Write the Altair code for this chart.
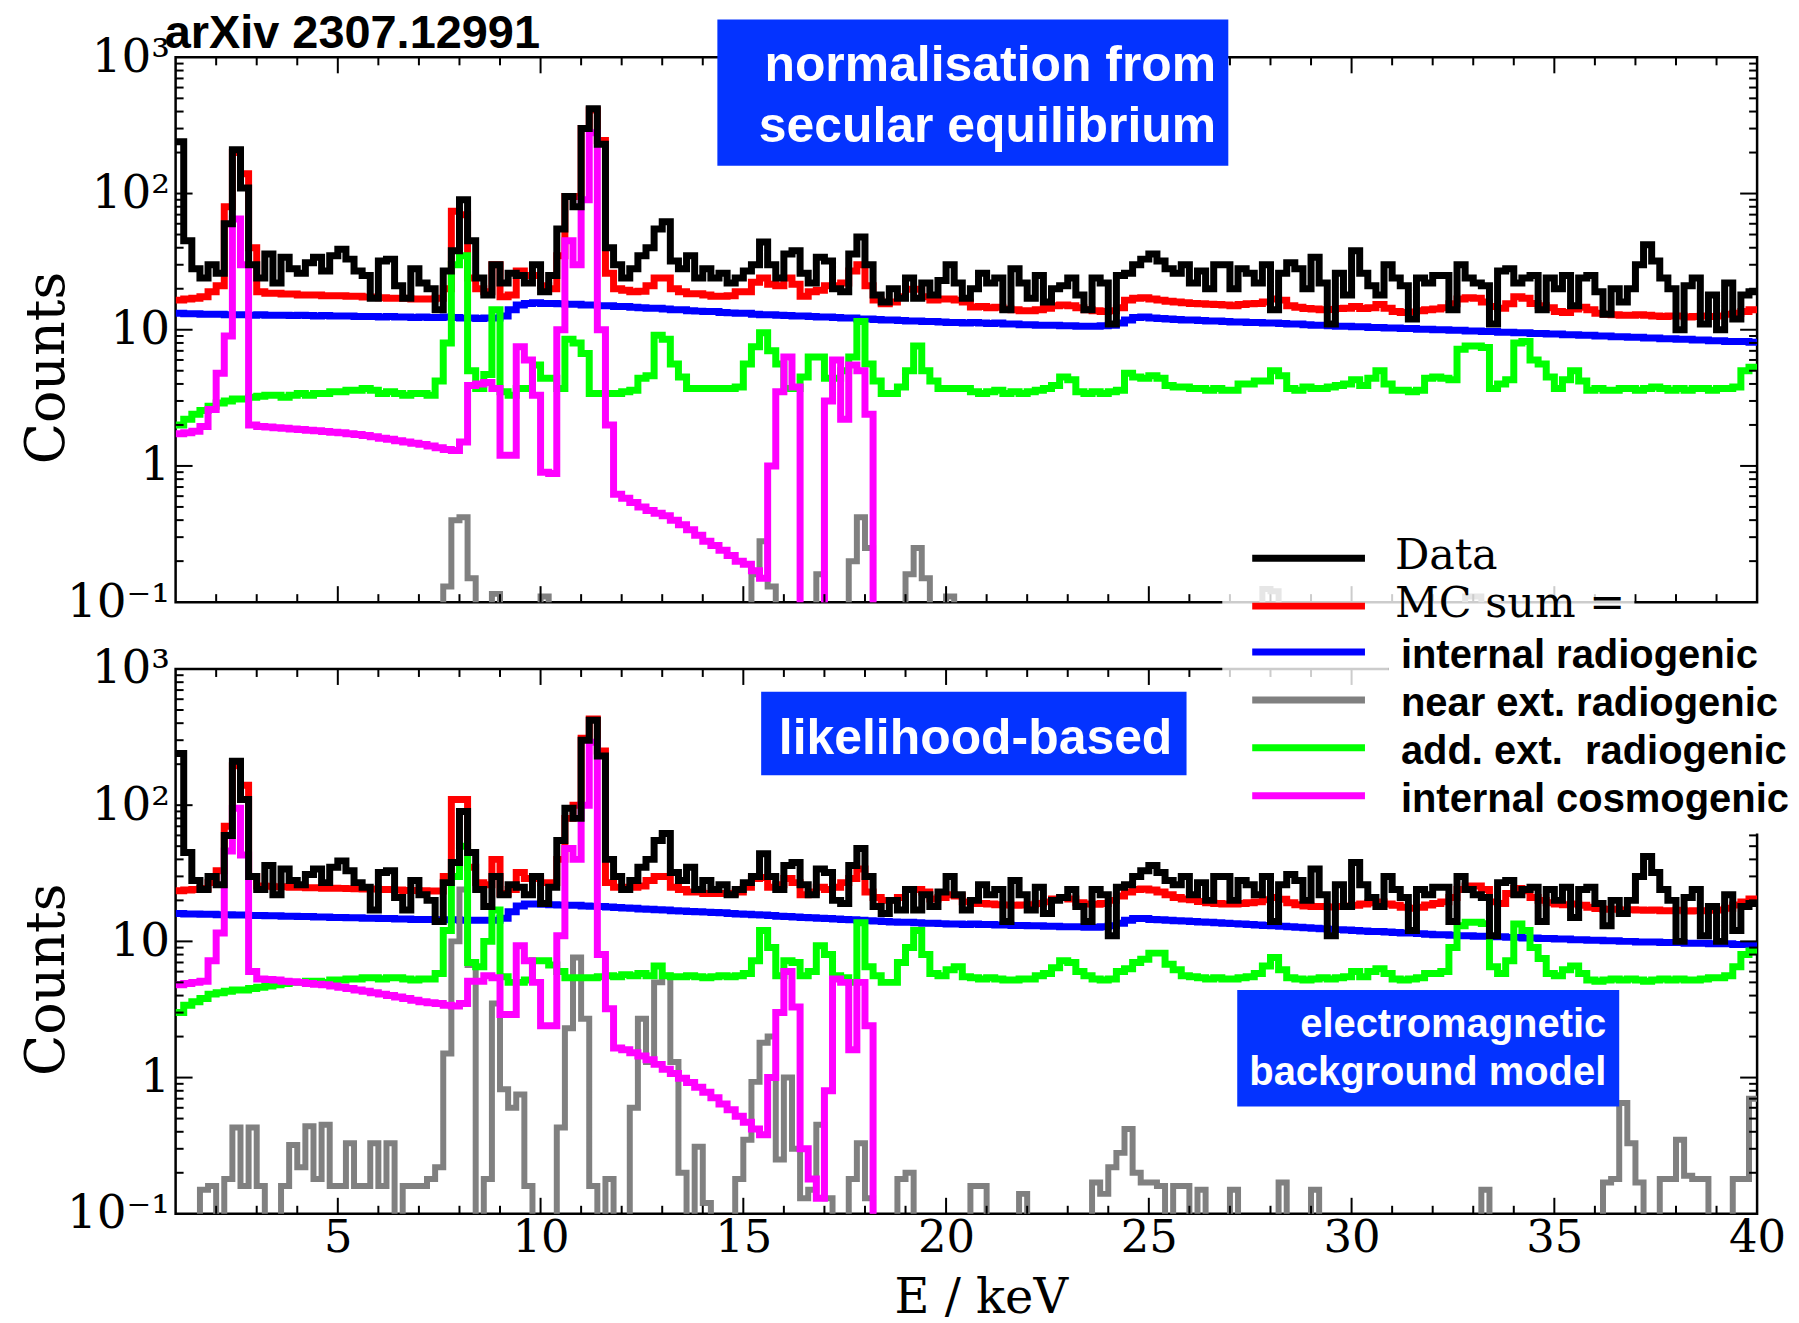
import altair as alt
import pandas as pd

# ---------------------------------------------------------------------------
# Binning of the energy spectra (keV) and plot ranges
# ---------------------------------------------------------------------------
E_MIN, E_MAX, BIN_WIDTH = 1.0, 40.0, 0.2
Y_DOMAIN = [0.1, 1000]
PLOT_W, PLOT_H = 1585, 546
FLOOR = 1e-3  # empty bins are drawn below the visible range
LINE_W = 7

SERIF = "DejaVu Serif"
SANS = "Liberation Sans"

# Measured spectrum (counts per 0.2 keV bin, 1.0 - 40.0 keV)
DATA = [
    240, 45, 28, 24, 30, 26, 60, 210, 110, 30,
    24, 36, 22, 34, 28, 26, 31, 34, 27, 35,
    39, 33, 27, 25, 17, 32, 33, 21, 17, 28,
    22, 20, 14, 27, 38, 90, 45, 24, 18, 30,
    22, 26, 25, 22, 30, 19, 25, 55, 95, 80,
    300, 420, 230, 40, 30, 24, 28, 35, 40, 55,
    62, 32, 28, 35, 24, 28, 24, 26, 22, 24,
    27, 30, 44, 30, 24, 36, 38, 26, 22, 34,
    32, 20, 19, 36, 48, 30, 18, 16, 20, 17,
    24, 17, 22, 18, 23, 30, 22, 17, 20, 26,
    22, 24, 14, 28, 22, 17, 25, 16, 20, 21,
    24, 18, 14, 24, 22, 11, 25, 26, 30, 33,
    36, 32, 28, 26, 30, 22, 27, 20, 30, 30,
    20, 28, 26, 22, 30, 14, 26, 31, 28, 20,
    34, 22, 11, 26, 18, 38, 26, 21, 18, 30,
    24, 21, 12, 24, 22, 25, 25, 14, 30, 24,
    22, 21, 11, 27, 28, 22, 24, 25, 14, 24,
    20, 25, 15, 24, 25, 19, 13, 20, 16, 20,
    30, 42, 32, 24, 20, 10, 21, 24, 11, 18,
    10, 22, 12, 18, 19,
]

# ---- normalisation from secular equilibrium --------------------------------
TOP_MC_SUM = [
    16.5, 16.8, 17, 17.5, 19, 21, 80, 200, 140, 40,
    19, 18.5, 18.5, 18.3, 18.3, 18, 18, 18, 17.8, 17.8,
    17.8, 17.6, 17.6, 17.4, 17.4, 17.2, 17, 17, 17, 16.8,
    16.8, 16.8, 17, 20, 74, 70, 24, 20, 19, 30,
    17.5, 18, 27, 25, 25, 21, 20, 35, 95, 95,
    300, 410, 245, 26, 20, 19.5, 19, 19.2, 21, 24,
    24, 20, 19, 18.4, 18.4, 18, 17.6, 17.6, 17.8, 19,
    19, 22.3, 24, 21.6, 21, 24, 21.6, 17.6, 19, 19.5,
    21, 21, 22, 27, 30, 21, 16.5, 15.5, 16, 17.5,
    19.8, 19.8, 17.5, 16.5, 16.8, 16.8, 16.5, 16, 14.7, 14.8,
    14.5, 14.6, 14.2, 14.0, 13.8, 13.8, 14.0, 14.4, 15.0, 15.2,
    15.0, 14.5, 14.0, 13.8, 13.6, 13.8, 14.5, 16.5, 17.0, 17.2,
    16.8, 16.5, 16.2, 16.0, 15.8, 15.6, 15.5, 15.4, 15.3, 15.2,
    15.0, 15.3, 15.5, 15.6, 16.0, 16.8, 16.5, 15.0, 14.6, 14.3,
    14.2, 14.0, 14.1, 14.3, 14.4, 14.8, 14.3, 14.5, 15.3, 14.4,
    13.6, 13.4, 13.5, 13.8, 14.0, 14.2, 14.5, 15.5, 16.8, 17.2,
    17.0, 16.0, 14.8, 14.4, 15.5, 17.5, 17.0, 15.6, 15.0, 14.5,
    13.6, 13.4, 14.2, 14.6, 14.0, 13.2, 13.0, 12.9, 12.8, 12.8,
    12.9, 12.8, 12.6, 12.5, 12.6, 12.6, 12.4, 12.5, 12.6, 12.5,
    12.6, 13.0, 13.2, 13.6, 14.0,
]
TOP_INT_RADIO = [
    13.2, 13.1, 13.1, 13.0, 13.0, 13.0, 12.9, 12.9, 12.9, 12.8,
    12.9, 12.8, 12.8, 12.8, 12.7, 12.8, 12.7, 12.6, 12.7, 12.6,
    12.6, 12.6, 12.5, 12.5, 12.5, 12.4, 12.5, 12.4, 12.4, 12.3,
    12.4, 12.3, 12.3, 12.4, 12.3, 12.2, 12.2, 12.1, 12.2, 12.2,
    12.6, 14.0, 15.2, 15.6, 15.8, 15.6, 15.6, 15.5, 15.4, 15.4,
    15.2, 15.2, 15.0, 15.0, 14.8, 14.8, 14.6, 14.5, 14.4, 14.4,
    14.2, 14.0, 14.0, 13.8, 13.7, 13.6, 13.6, 13.4, 13.3, 13.2,
    13.2, 13.0, 12.9, 12.9, 12.8, 12.7, 12.6, 12.6, 12.5, 12.4,
    12.4, 12.3, 12.2, 12.2, 12.0, 12.0, 11.9, 11.8, 11.8, 11.7,
    11.6, 11.6, 11.5, 11.5, 11.4, 11.3, 11.3, 11.2, 11.3, 11.2,
    11.1, 11.2, 11.0, 11.0, 10.9, 10.9, 10.8, 10.8, 10.8, 10.7,
    10.7, 10.6, 10.6, 10.6, 10.7, 10.8, 11.2, 11.8, 12.3, 12.4,
    12.2, 12.1, 12.0, 11.9, 11.8, 11.8, 11.7, 11.6, 11.6, 11.5,
    11.4, 11.4, 11.3, 11.3, 11.2, 11.2, 11.1, 11.0, 11.0, 10.9,
    10.8, 10.8, 10.7, 10.6, 10.6, 10.5, 10.5, 10.4, 10.4, 10.3,
    10.3, 10.2, 10.2, 10.1, 10.1, 10.0, 10.0, 9.9, 9.9, 9.8,
    9.8, 9.7, 9.7, 9.6, 9.6, 9.5, 9.5, 9.4, 9.4, 9.3,
    9.3, 9.2, 9.2, 9.1, 9.1, 9.0, 9.0, 8.9, 8.9, 8.8,
    8.8, 8.7, 8.7, 8.6, 8.6, 8.5, 8.5, 8.4, 8.4, 8.3,
    8.3, 8.2, 8.2, 8.2, 8.1,
]
TOP_NEAR_EXT = [
    0, 0, 0, 0, 0, 0, 0, 0, 0, 0,
    0, 0, 0, 0, 0, 0, 0, 0, 0, 0,
    0, 0, 0, 0, 0, 0, 0, 0, 0, 0,
    0, 0, 0, 0.13, 0.4, 0.42, 0.15, 0, 0, 0.115,
    0, 0, 0, 0, 0, 0.11, 0, 0, 0, 0,
    0, 0, 0, 0, 0, 0, 0, 0, 0, 0,
    0, 0, 0, 0, 0, 0, 0, 0, 0, 0,
    0, 0.16, 0.28, 0.13, 0, 0, 0, 0, 0, 0.16,
    0, 0, 0, 0.2, 0.42, 0.25, 0, 0, 0, 0,
    0.16, 0.25, 0.15, 0, 0, 0.11, 0, 0, 0, 0,
    0, 0, 0, 0, 0, 0, 0, 0, 0, 0,
    0, 0, 0, 0, 0, 0, 0, 0, 0, 0,
    0, 0, 0, 0, 0, 0, 0, 0, 0, 0,
    0, 0, 0, 0, 0.125, 0.12, 0, 0, 0, 0,
    0, 0, 0, 0, 0, 0, 0, 0, 0, 0,
    0, 0, 0, 0, 0, 0, 0, 0, 0, 0.11,
    0.11, 0, 0, 0, 0, 0, 0, 0, 0, 0,
    0, 0, 0, 0, 0, 0, 0, 0, 0, 0,
    0, 0, 0, 0, 0, 0, 0, 0, 0, 0,
    0, 0, 0, 0, 0,
]
TOP_ADD_EXT = [
    2.0, 2.2, 2.4, 2.55, 2.74, 2.9, 3.0, 3.1, 3.1, 3.2,
    3.25, 3.3, 3.3, 3.2, 3.3, 3.4, 3.3, 3.4, 3.4, 3.5,
    3.5, 3.6, 3.6, 3.7, 3.6, 3.4, 3.5, 3.4, 3.3, 3.4,
    3.4, 3.3, 4.2, 8.0, 30, 35, 5.0, 3.7, 4.7, 14,
    3.5, 3.3, 3.7, 3.7, 5.5, 4.4, 4.4, 3.7, 8.5, 8.0,
    6.7, 3.4, 3.4, 3.4, 3.4, 3.5, 3.6, 4.4, 4.6, 9.1,
    8.5, 5.6, 4.5, 3.7, 3.7, 3.7, 3.7, 3.7, 3.7, 3.8,
    5.6, 7.5, 9.5, 7.0, 5.6, 3.7, 3.7, 4.5, 6.3, 6.3,
    4.4, 4.4, 5.0, 6.3, 11.5, 5.6, 4.2, 3.4, 3.4, 3.8,
    5.0, 7.6, 5.0, 4.2, 3.7, 3.7, 3.7, 3.7, 3.5, 3.4,
    3.5, 3.6, 3.4, 3.5, 3.4, 3.5, 3.6, 3.7, 3.9, 4.5,
    4.3, 3.5, 3.4, 3.5, 3.4, 3.5, 3.6, 4.8, 4.5, 4.4,
    4.6, 4.4, 3.9, 3.8, 3.8, 3.7, 3.7, 3.6, 3.7, 3.6,
    3.6, 4.0, 4.0, 4.2, 4.2, 5.0, 4.6, 3.7, 3.6, 3.8,
    3.7, 3.7, 3.8, 3.9, 4.0, 4.3, 3.9, 4.4, 5.0, 4.0,
    3.6, 3.6, 3.5, 3.6, 4.4, 4.5, 4.4, 4.3, 7.2, 7.6,
    7.6, 7.4, 3.7, 4.0, 4.3, 8.0, 8.2, 6.0, 5.6, 4.5,
    3.7, 4.3, 5.0, 4.2, 3.6, 3.7, 3.6, 3.6, 3.7, 3.7,
    3.6, 3.7, 3.8, 3.7, 3.6, 3.7, 3.6, 3.7, 3.7, 3.6,
    3.7, 3.7, 3.8, 5.0, 5.3,
]
TOP_INT_COSMO = [
    1.72, 1.75, 1.8, 1.95, 2.6, 4.8, 9, 65, 30, 2.0,
    1.95, 1.93, 1.91, 1.89, 1.87, 1.85, 1.83, 1.81, 1.79, 1.77,
    1.75, 1.72, 1.70, 1.67, 1.64, 1.60, 1.57, 1.53, 1.50, 1.47,
    1.44, 1.40, 1.36, 1.32, 1.30, 1.5, 3.9, 4.0, 4.1, 3.7,
    1.2, 1.2, 7.5, 6.0, 3.3, 0.9, 0.88, 10, 45, 30,
    90, 280, 10, 2.0, 0.62, 0.58, 0.54, 0.50, 0.47, 0.45,
    0.43, 0.40, 0.37, 0.34, 0.31, 0.28, 0.26, 0.24, 0.22, 0.20,
    0.19, 0.17, 0.15, 1.0, 3.5, 6.3, 3.8, 0, 0, 0,
    3.0, 6.0, 2.2, 5.5, 5.0, 2.4, 0, 0, 0, 0,
    0, 0, 0, 0, 0, 0, 0, 0, 0, 0,
    0, 0, 0, 0, 0, 0, 0, 0, 0, 0,
    0, 0, 0, 0, 0, 0, 0, 0, 0, 0,
    0, 0, 0, 0, 0, 0, 0, 0, 0, 0,
    0, 0, 0, 0, 0, 0, 0, 0, 0, 0,
    0, 0, 0, 0, 0, 0, 0, 0, 0, 0,
    0, 0, 0, 0, 0, 0, 0, 0, 0, 0,
    0, 0, 0, 0, 0, 0, 0, 0, 0, 0,
    0, 0, 0, 0, 0, 0, 0, 0, 0, 0,
    0, 0, 0, 0, 0, 0, 0, 0, 0, 0,
    0, 0, 0, 0, 0,
]

# ---- likelihood-based normalisation ----------------------------------------
BOT_MC_SUM = [
    23.5, 23.8, 24, 24.5, 27, 33, 70, 195, 140, 30,
    25.5, 25.4, 25.2, 25.2, 25, 25, 24.8, 24.8, 24.6, 24.6,
    24.5, 24.4, 24.3, 24.2, 24.2, 24.0, 24.0, 23.8, 23.6, 23.6,
    23.5, 23.4, 23.4, 30, 110, 110, 35, 27, 26, 40,
    22.5, 24, 32, 29, 29, 27, 27, 40, 80, 100,
    310, 430, 250, 27, 25, 25, 25, 25.5, 28, 30,
    30, 25, 24, 23, 23, 22.5, 22.5, 22.5, 22.5, 23,
    25, 29, 29.5, 25, 26, 29, 27, 22, 23, 25,
    24, 25, 27, 29, 34, 23, 21, 20, 20, 21,
    24, 24, 23, 20.5, 21, 22, 21.5, 19.5, 19, 19,
    18.8, 18.6, 18.5, 18.4, 18.5, 18.6, 19, 19.5, 20.5, 21,
    20.5, 19.2, 18.8, 18.7, 19, 20, 21.5, 23, 24, 24.2,
    23.8, 23, 22, 21, 20.5, 20.2, 19.6, 19.2, 19, 18.8,
    18.8, 19, 19.2, 19.5, 20.2, 21, 20.4, 19.2, 18.6, 18.2,
    18.0, 18.0, 17.9, 18.0, 18.2, 18.4, 18.8, 19.2, 19.5, 18.8,
    18.4, 17.8, 17.5, 17.8, 18.5, 19, 19.5, 21, 24, 25.5,
    25.5, 24, 19.5, 19, 22.5, 24.5, 23.5, 21, 20, 19.2,
    18.8, 18.6, 18.8, 18.4, 17.8, 17.4, 17.2, 17.2, 17.0, 17.1,
    17.0, 16.9, 17.0, 16.8, 16.8, 16.9, 16.7, 16.8, 16.8, 16.9,
    17.0, 17.5, 18.5, 19.5, 20.5,
]
BOT_INT_RADIO = [
    16.0, 15.9, 15.9, 15.8, 15.8, 15.7, 15.7, 15.6, 15.6, 15.5,
    15.5, 15.4, 15.4, 15.3, 15.3, 15.2, 15.2, 15.1, 15.1, 15.0,
    15.0, 14.9, 14.9, 14.8, 14.8, 14.7, 14.7, 14.6, 14.6, 14.5,
    14.5, 14.5, 14.4, 14.4, 14.4, 14.3, 14.3, 14.3, 14.3, 14.3,
    14.8, 16.5, 18.2, 18.8, 18.8, 18.7, 18.6, 18.5, 18.4, 18.4,
    18.2, 18.1, 18.0, 17.9, 17.7, 17.6, 17.5, 17.3, 17.2, 17.1,
    17.0, 16.8, 16.7, 16.6, 16.5, 16.4, 16.3, 16.2, 16.0, 15.9,
    15.8, 15.7, 15.6, 15.5, 15.3, 15.2, 15.1, 15.0, 14.9, 14.8,
    14.7, 14.6, 14.5, 14.4, 14.3, 14.2, 14.1, 14.0, 13.9, 13.8,
    13.8, 13.7, 13.6, 13.6, 13.5, 13.4, 13.4, 13.3, 13.4, 13.3,
    13.3, 13.2, 13.2, 13.1, 13.1, 13.0, 13.0, 12.9, 12.9, 12.8,
    12.8, 12.8, 12.7, 12.7, 12.8, 13.0, 13.6, 14.3, 14.7, 14.7,
    14.5, 14.4, 14.3, 14.2, 14.1, 14.0, 13.9, 13.8, 13.7, 13.6,
    13.5, 13.4, 13.3, 13.2, 13.1, 13.0, 12.9, 12.8, 12.7, 12.6,
    12.5, 12.4, 12.3, 12.2, 12.1, 12.0, 11.9, 11.8, 11.8, 11.7,
    11.6, 11.5, 11.5, 11.4, 11.3, 11.2, 11.2, 11.1, 11.0, 11.0,
    10.9, 10.9, 10.8, 10.8, 10.7, 10.7, 10.6, 10.6, 10.5, 10.5,
    10.4, 10.4, 10.3, 10.3, 10.2, 10.2, 10.1, 10.1, 10.0, 10.0,
    9.9, 9.9, 9.9, 9.8, 9.8, 9.8, 9.7, 9.7, 9.7, 9.6,
    9.6, 9.6, 9.5, 9.5, 9.5,
]
BOT_NEAR_EXT = [
    0, 0, 0, 0.15, 0.16, 0, 0.18, 0.43, 0.16, 0.43,
    0.16, 0, 0, 0.16, 0.32, 0.22, 0.44, 0.18, 0.45, 0.16,
    0.16, 0.33, 0.16, 0.16, 0.33, 0.16, 0.33, 0, 0.16, 0.16,
    0.16, 0.18, 0.22, 1.5, 10, 24, 6.7, 0, 0.18, 3.5,
    0.82, 0.6, 0.75, 0.16, 0, 0, 0, 0.43, 2.3, 7.6,
    2.7, 0.16, 0, 0.18, 0, 0, 0.6, 2.7, 1.3, 5.0,
    5.6, 1.3, 0.2, 0, 0.31, 0.12, 0, 0, 0, 0.18,
    0.35, 0.93, 1.8, 2.0, 0.25, 1.0, 0.3, 0.13, 0.15, 0.45,
    0.13, 0, 0, 0.18, 0.33, 0.13, 0, 0, 0, 0.18,
    0.2, 0, 0, 0, 0, 0, 0, 0, 0.16, 0.16,
    0, 0, 0, 0, 0.14, 0, 0, 0, 0, 0,
    0, 0, 0, 0.17, 0.14, 0.22, 0.28, 0.42, 0.2, 0.17,
    0.17, 0.16, 0, 0.16, 0.16, 0, 0.15, 0, 0, 0,
    0.15, 0, 0, 0, 0, 0, 0.17, 0, 0, 0,
    0.15, 0, 0, 0, 0, 0, 0, 0, 0, 0,
    0, 0, 0, 0, 0, 0, 0, 0, 0, 0,
    0, 0.15, 0, 0, 0, 0, 0, 0, 0, 0,
    0, 0, 0, 0, 0, 0, 0.17, 0.18, 0.65, 0.33,
    0.17, 0, 0, 0.18, 0.18, 0.35, 0.19, 0.18, 0.18, 0,
    0, 0, 0.18, 0.18, 0.7,
]
BOT_ADD_EXT = [
    3.0, 3.4, 3.6, 3.8, 4.1, 4.2, 4.3, 4.4, 4.4, 4.5,
    4.6, 4.7, 4.8, 4.9, 5.0, 5.0, 5.1, 5.1, 5.0, 5.2,
    5.2, 5.3, 5.3, 5.4, 5.4, 5.3, 5.4, 5.4, 5.3, 5.2,
    5.3, 5.3, 5.8, 12, 30, 50, 7.0, 6.5, 10, 17,
    5.5, 5.0, 5.0, 5.2, 7.2, 7.2, 6.7, 6.0, 5.4, 5.4,
    5.4, 5.4, 5.5, 5.6, 5.5, 5.7, 5.6, 5.8, 5.6, 6.6,
    5.6, 5.5, 5.5, 5.6, 5.5, 5.4, 5.5, 5.6, 5.5, 5.6,
    5.8, 7.2, 12, 9.0, 5.6, 7.2, 7.0, 5.6, 6.0, 9.3,
    8.0, 5.6, 5.4, 5.0, 13.7, 6.5, 5.6, 5.0, 5.0, 7.0,
    9.0, 12, 8.0, 5.8, 5.6, 6.2, 6.5, 5.5, 5.4, 5.3,
    5.4, 5.3, 5.2, 5.2, 5.3, 5.3, 5.6, 5.8, 6.4, 7.2,
    7.0, 6.0, 5.6, 5.3, 5.2, 5.3, 6.0, 6.3, 7.0, 7.4,
    8.2, 8.2, 6.8, 6.2, 5.6, 5.5, 5.4, 5.3, 5.4, 5.3,
    5.3, 5.4, 5.5, 5.8, 6.6, 7.6, 6.2, 5.4, 5.3, 5.2,
    5.3, 5.4, 5.3, 5.4, 5.5, 6.0, 5.5, 6.0, 6.3, 5.8,
    5.3, 5.2, 5.3, 5.4, 5.8, 5.8, 6.0, 9.0, 13.0, 13.8,
    13.8, 13.5, 6.5, 5.8, 7.2, 13.4, 12.0, 9.0, 7.5, 5.8,
    5.6, 6.2, 6.6, 5.8, 5.2, 5.1, 5.2, 5.3, 5.2, 5.3,
    5.2, 5.1, 5.2, 5.3, 5.2, 5.3, 5.2, 5.2, 5.3, 5.4,
    5.4, 5.6, 6.5, 8.0, 8.5,
]
BOT_INT_COSMO = [
    4.8, 4.9, 5.0, 5.1, 7.2, 11.5, 46, 95, 43, 6.0,
    5.3, 5.25, 5.2, 5.1, 5.05, 5.0, 4.9, 4.85, 4.8, 4.7,
    4.6, 4.5, 4.4, 4.3, 4.2, 4.1, 4.0, 3.9, 3.8, 3.7,
    3.6, 3.55, 3.5, 3.4, 3.35, 3.5, 5.1, 5.1, 5.6, 5.4,
    2.9, 2.9, 9.3, 7.2, 5.0, 2.4, 2.4, 11, 48, 40,
    100, 290, 8, 3.2, 1.65, 1.60, 1.52, 1.44, 1.35, 1.25,
    1.15, 1.07, 0.99, 0.92, 0.85, 0.78, 0.71, 0.64, 0.58, 0.52,
    0.47, 0.42, 0.38, 1.0, 3.0, 6.0, 3.3, 0.3, 0.18, 0.13,
    0.8, 5.3, 5.0, 1.6, 5.0, 2.4, 0, 0, 0, 0,
    0, 0, 0, 0, 0, 0, 0, 0, 0, 0,
    0, 0, 0, 0, 0, 0, 0, 0, 0, 0,
    0, 0, 0, 0, 0, 0, 0, 0, 0, 0,
    0, 0, 0, 0, 0, 0, 0, 0, 0, 0,
    0, 0, 0, 0, 0, 0, 0, 0, 0, 0,
    0, 0, 0, 0, 0, 0, 0, 0, 0, 0,
    0, 0, 0, 0, 0, 0, 0, 0, 0, 0,
    0, 0, 0, 0, 0, 0, 0, 0, 0, 0,
    0, 0, 0, 0, 0, 0, 0, 0, 0, 0,
    0, 0, 0, 0, 0, 0, 0, 0, 0, 0,
    0, 0, 0, 0, 0,
]

# Legend entries and line colours
SERIES_NAMES = ["Data", "MC sum =", "internal radiogenic", "near ext. radiogenic",
                "add. ext.\u00a0 radiogenic", "internal cosmogenic"]
SERIES_COLORS = ["#000000", "#ff0000", "#0000ff", "#808080", "#00ff00", "#ff00ff"]
PLOT_TAG = "arXiv 2307.12991"

# Axis ticks
X_LABELS = [5, 10, 15, 20, 25, 30, 35, 40]
X_MINOR = [2, 3, 4, 6, 7, 8, 9, 11, 12, 13, 14, 16, 17, 18, 19, 21, 22, 23, 24,
           26, 27, 28, 29, 31, 32, 33, 34, 36, 37, 38, 39]
X_MAJOR = [5, 10, 15, 20, 25, 30, 35]
Y_LABELS = [0.1, 1, 10, 100, 1000]
Y_MAJOR = [1, 10, 100]
Y_MINOR = [0.2, 0.3, 0.4, 0.5, 0.6, 0.7, 0.8, 0.9,
           2, 3, 4, 5, 6, 7, 8, 9,
           20, 30, 40, 50, 60, 70, 80, 90,
           200, 300, 400, 500, 600, 700, 800, 900]

# Annotation boxes (keV / counts coordinates)
TOP_BOX = {"x0": 14.36, "x1": 26.96, "y0": 160, "y1": 1893}
TOP_BOX_TEXT = ["normalisation from", "secular equilibrium"]
TOP_BOX_TEXT_X, TOP_BOX_TEXT_Y = 26.66, [668, 240]

MID_BOX = {"x0": 15.44, "x1": 25.93, "y0": 165.6, "y1": 680}
MID_BOX_TEXT = ["likelihood-based"]
MID_BOX_TEXT_X, MID_BOX_TEXT_Y = 25.58, [235.7]

EM_BOX = {"x0": 27.18, "x1": 36.60, "y0": 0.614, "y1": 4.39}
EM_BOX_TEXT = ["electromagnetic", "background model"]
EM_BOX_TEXT_X, EM_BOX_TEXT_Y = 36.28, [1.99, 0.889]

BOX_BLUE = "#0433ff"

XS = alt.Scale(domain=[E_MIN, E_MAX], nice=False, zero=False)
YS = alt.Scale(type="log", domain=Y_DOMAIN, nice=False)

Y_LABEL_EXPR = ("datum.value >= 999 ? '10\u00b3' : datum.value >= 99 ? '10\u00b2' : "
                "datum.value >= 9 ? '10' : datum.value >= 0.9 ? '1' : '10\u207b\u00b9'")


def step_frame(values):
    edges = [round(E_MIN + BIN_WIDTH * i, 3) for i in range(len(values) + 1)]
    counts = [max(v, FLOOR) for v in values] + [max(values[-1], FLOOR)]
    return pd.DataFrame({"E": edges, "counts": counts})


def y_axis():
    return alt.Axis(
        values=Y_LABELS, labelExpr=Y_LABEL_EXPR, ticks=False, domain=False, grid=False,
        labelFont=SERIF, labelFontSize=47, labelColor="black", labelPadding=6,
        labelFlush=False, labelOverlap=False, labelBaseline="middle",
        title="Counts", titleFont=SERIF, titleFontSize=54, titleFontWeight="normal",
        titleColor="black", titleAngle=-90, titleAlign="center", titleBaseline="middle",
        titleX=-128, titleY=311,
    )


def x_axis():
    return alt.Axis(
        values=X_LABELS, format="d", ticks=False, domain=False, grid=False,
        labelFont=SERIF, labelFontSize=45, labelColor="black", labelPadding=2,
        labelFlush=False, labelOverlap=False,
        title="E / keV", titleFont=SERIF, titleFontSize=48, titleFontWeight="normal",
        titleColor="black", titleAlign="center", titleBaseline="alphabetic",
        titleX=807, titleY=99,
    )


class Panel:
    """Collects the layers of one spectrum panel sharing the same axes."""

    def __init__(self, bottom):
        self.bottom = bottom
        self.layers = []

    def xa(self):
        return x_axis() if self.bottom else None

    def X(self, field):
        return alt.X(field, scale=XS, axis=self.xa())

    def Y(self, field):
        return alt.Y(field, scale=YS, axis=y_axis())

    def hist(self, values, color, width=LINE_W):
        self.layers.append(alt.Chart(step_frame(values)).mark_line(
            interpolate="step-after", clip=True, color=color, strokeWidth=width,
            strokeJoin="miter",
        ).encode(x=self.X("E:Q"), y=self.Y("counts:Q")))

    def ticks(self):
        for vals, length in ((X_MINOR, 8), (X_MAJOR, 16)):
            df = pd.DataFrame({"E": vals})
            for y0, y1 in ((PLOT_H, PLOT_H - length), (0, length)):
                self.layers.append(alt.Chart(df).mark_rule(color="black", strokeWidth=2).encode(
                    x=self.X("E:Q"), y=alt.value(y0), y2=alt.value(y1)))
        for vals, length in ((Y_MINOR, 8), (Y_MAJOR, 17)):
            df = pd.DataFrame({"counts": vals})
            for x0, x1 in ((0, length), (PLOT_W - length, PLOT_W)):
                self.layers.append(alt.Chart(df).mark_rule(color="black", strokeWidth=2).encode(
                    y=self.Y("counts:Q"), x=alt.value(x0), x2=alt.value(x1)))

    def box(self, box, lines, tx, ty, size):
        self.layers.append(alt.Chart(pd.DataFrame([box])).mark_rect(color=BOX_BLUE).encode(
            x=self.X("x0:Q"), x2="x1:Q", y=self.Y("y0:Q"), y2="y1:Q"))
        df = pd.DataFrame({"label": lines, "tx": [tx] * len(lines), "ty": ty})
        self.layers.append(alt.Chart(df).mark_text(
            align="right", baseline="alphabetic", font=SANS, fontWeight="bold",
            fontSize=size, color="white",
        ).encode(x=self.X("tx:Q"), y=self.Y("ty:Q"), text="label:N"))

    def backdrop(self, x0, x1, y0, y1, opacity):
        self.layers.append(alt.Chart(pd.DataFrame({"k": [0]})).mark_rect(
            color="white", opacity=opacity).encode(
            x=alt.value(x0), x2=alt.value(x1), y=alt.value(y0), y2=alt.value(y1)))

    def label(self, text, x, y, font, weight, size):
        self.layers.append(alt.Chart(pd.DataFrame({"label": [text]})).mark_text(
            align="left", baseline="alphabetic", font=font, fontWeight=weight,
            fontSize=size, color="black").encode(
            x=alt.value(x), y=alt.value(y), text="label:N"))

    def legend_entry(self, idx, y, text_x, font, weight, size, text_dy):
        self.layers.append(alt.Chart(pd.DataFrame({"label": [SERIES_NAMES[idx]]})).mark_rule(
            color=SERIES_COLORS[idx], strokeWidth=LINE_W).encode(
            x=alt.value(1079), x2=alt.value(1192), y=alt.value(y)))
        self.label(SERIES_NAMES[idx], text_x, y + text_dy, font, weight, size)

    def chart(self):
        return alt.layer(*self.layers).properties(width=PLOT_W, height=PLOT_H)


def build_panel(mc, int_radio, near_ext, add_ext, cosmo, bottom):
    p = Panel(bottom)
    p.hist(mc, SERIES_COLORS[1])
    p.hist(int_radio, SERIES_COLORS[2])
    p.hist(near_ext, SERIES_COLORS[3], width=LINE_W - 1)
    p.hist(add_ext, SERIES_COLORS[4])
    p.hist(cosmo, SERIES_COLORS[5])
    p.hist(DATA, SERIES_COLORS[0])
    p.ticks()
    if not bottom:
        p.box(TOP_BOX, TOP_BOX_TEXT, TOP_BOX_TEXT_X, TOP_BOX_TEXT_Y, 50)
        p.label(PLOT_TAG, -11, -9, SANS, "bold", 47)
        p.backdrop(1049, 1462, 470, 572, 0.8)
        p.legend_entry(0, 502, 1222, SERIF, "normal", 43, 11)
        p.legend_entry(1, 550, 1222, SERIF, "normal", 43, 11)
    else:
        p.box(MID_BOX, MID_BOX_TEXT, MID_BOX_TEXT_X, MID_BOX_TEXT_Y, 50)
        p.box(EM_BOX, EM_BOX_TEXT, EM_BOX_TEXT_X, EM_BOX_TEXT_Y, 40)
        p.backdrop(1049, 1216, -43, 165, 0.8)
        p.backdrop(1216, 1625, -43, 165, 1.0)
        for k, y in zip(range(2, 6), (-17, 31, 79, 127)):
            p.legend_entry(k, y, 1228, SANS, "bold", 40, 16)
    return p.chart()


top = build_panel(TOP_MC_SUM, TOP_INT_RADIO, TOP_NEAR_EXT, TOP_ADD_EXT, TOP_INT_COSMO, False)
bottom = build_panel(BOT_MC_SUM, BOT_INT_RADIO, BOT_NEAR_EXT, BOT_ADD_EXT, BOT_INT_COSMO, True)

chart = alt.vconcat(top, bottom, spacing=67, bounds="flush").properties(
    padding={"left": 19, "top": 7, "right": 0, "bottom": 0},
    background="white",
).configure_view(stroke="black", strokeWidth=2.5)

chart.save("out.html", embed_options={"renderer": "svg", "actions": False})
